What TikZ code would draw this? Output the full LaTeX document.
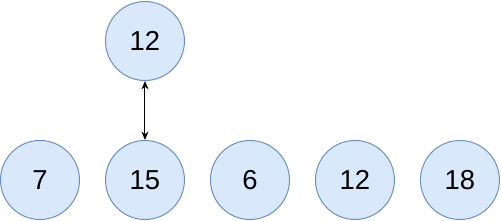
\documentclass[tikz,border=0pt]{standalone}
\usepackage{fontspec}
\setmainfont{Liberation Sans}
\usetikzlibrary{arrows.meta,positioning}

\definecolor{nodefill}{HTML}{DAE8FC}
\definecolor{nodeline}{HTML}{6C8EBF}

\begin{document}
\begin{tikzpicture}[node distance=0.625cm,>={Stealth[length=6pt,width=5pt]}]
\tikzset{num/.style={draw=nodeline,fill=nodefill,circle,minimum size=1.975cm,inner sep=0pt,line width=0.7pt,font=\fontsize{19.5}{22}\selectfont}}
\useasboundingbox (0,0) rectangle (12.525,5.525);
\node[num] (a) at (1,1.025) {7};
\node[num,right=of a] (b) {15};
\node[num,right=of b] (c) {6};
\node[num,right=of c] (d) {12};
\node[num,right=of d] (e) {18};
\node[num,above=1.475cm of b] (t) {12};
\draw[<->,line width=0.7pt] (t) -- (b);
\end{tikzpicture}
\end{document}
